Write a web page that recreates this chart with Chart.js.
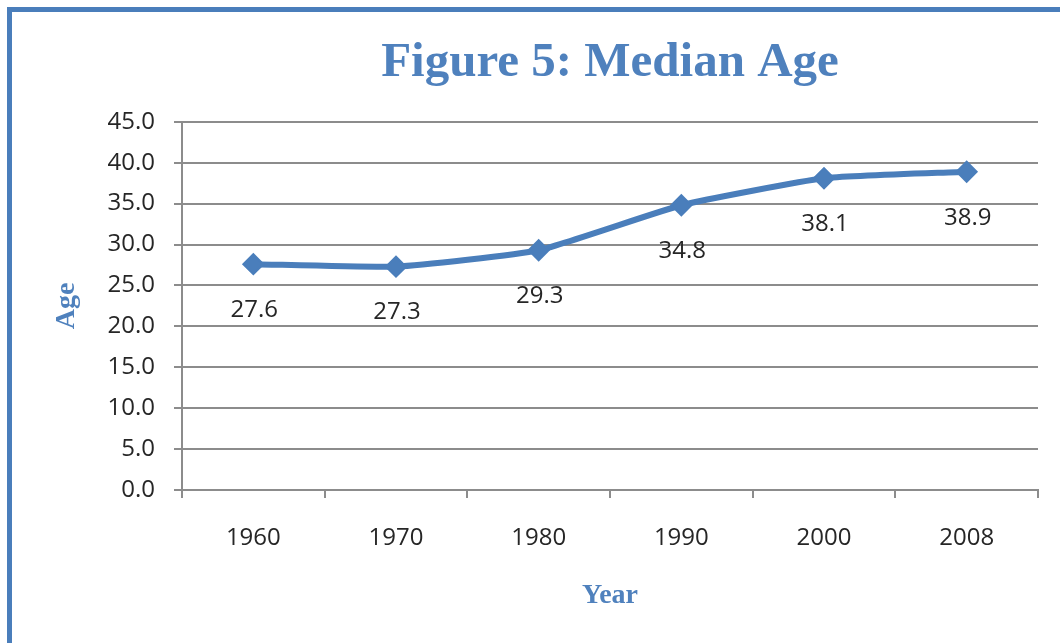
<!DOCTYPE html>
<html>
<head>
<meta charset="utf-8">
<script src="https://cdn.jsdelivr.net/npm/chart.js@4/dist/chart.umd.min.js"></script>
<style>
  html, body { margin: 0; padding: 0; background: #fff; }
  #wrap { position: relative; width: 1060px; height: 643px; overflow: hidden; }
  #frame { position: absolute; left: 7px; top: 7px; width: 1100px; height: 700px;
           border-left: 5px solid #4a7ebb; border-top: 5px solid #4a7ebb; box-sizing: border-box; }
  #median-chart { position: absolute; left: 0; top: 0; }
</style>
</head>
<body>
<div id="wrap">
  <div id="frame"></div>
  <canvas id="median-chart" width="1060" height="643"></canvas>
</div>
<script>
const years = ['1960', '1970', '1980', '1990', '2000', '2008'];
const medianAge = [27.6, 27.3, 29.3, 34.8, 38.1, 38.9];
const yTicks = [0, 5, 10, 15, 20, 25, 30, 35, 40, 45];

const BLUE = '#4a7ebb';
const GRID = '#8c8c8c';
const TEXT = '#262626';
const tickFont = { family: 'Open Sans', size: 24 };

// value labels under each point, like Excel's "below" position
const pointLabels = {
  id: 'pointLabels',
  afterDatasetsDraw(chart) {
    const ctx = chart.ctx;
    const meta = chart.getDatasetMeta(0);
    ctx.save();
    ctx.font = `${tickFont.size}px ${tickFont.family}`;
    ctx.fillStyle = TEXT;
    ctx.textAlign = 'center';
    ctx.textBaseline = 'middle';
    meta.data.forEach((pt, i) => {
      ctx.fillText(medianAge[i].toFixed(1), pt.x + 1, pt.y + 46);
    });
    ctx.restore();
  }
};

new Chart(document.getElementById('median-chart'), {
  type: 'line',
  data: {
    labels: years,
    datasets: [{
      data: medianAge,
      borderColor: BLUE,
      backgroundColor: BLUE,
      borderWidth: 6,
      tension: 0.15,
      pointStyle: 'rectRot',
      pointRadius: 10,
      pointBorderWidth: 2,
      pointBackgroundColor: BLUE,
      pointBorderColor: BLUE
    }]
  },
  options: {
    responsive: false,
    animation: false,
    layout: { padding: { left: 40, right: 22, top: 0, bottom: 20 } },
    plugins: {
      legend: { display: false },
      tooltip: { enabled: false },
      title: {
        display: true,
        text: 'Figure 5: Median Age',
        color: '#4f81bd',
        fullSize: false,
        font: { family: 'Liberation Serif', size: 49, weight: 'bold', lineHeight: 1.2 },
        padding: { top: 34, bottom: 29 }
      }
    },
    scales: {
      x: {
        offset: true,
        grid: { offset: true, drawOnChartArea: false, drawTicks: true, tickLength: 8, color: GRID, lineWidth: 2 },
        border: { display: true, color: GRID, width: 2 },
        ticks: { color: TEXT, font: tickFont, padding: 26 },
        title: {
          display: true,
          text: 'Year',
          color: '#4f81bd',
          font: { family: 'Liberation Serif', size: 28, weight: 'bold' },
          padding: { top: 10, bottom: 10 }
        },
        afterFit: scale => { scale.height = 133; }
      },
      y: {
        min: 0,
        max: 45,
        afterBuildTicks: scale => { scale.ticks = yTicks.map(v => ({ value: v })); },
        grid: { color: GRID, lineWidth: 2, drawTicks: true, tickLength: 8 },
        border: { display: true, color: GRID, width: 2 },
        ticks: { color: TEXT, font: tickFont, padding: 19, callback: v => Number(v).toFixed(1) },
        title: {
          display: true,
          text: 'Age',
          color: '#4f81bd',
          font: { family: 'Liberation Serif', size: 28, weight: 'bold' },
          padding: { top: 10, bottom: 10 }
        },
        afterFit: scale => { scale.width = 142; }
      }
    }
  },
  plugins: [pointLabels]
});
</script>
</body>
</html>
